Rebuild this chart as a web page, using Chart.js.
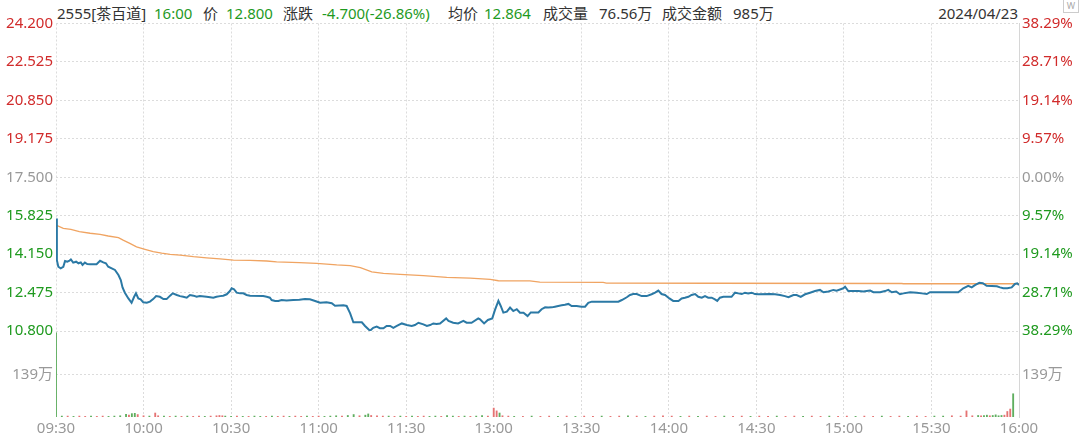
<!DOCTYPE html>
<html lang="zh-CN">
<head>
<meta charset="UTF-8">
<title>2555 茶百道 分时</title>
<script src="https://cdn.jsdelivr.net/npm/chart.js"></script>
<style>
    body {
        margin: 0;
        width: 1080px;
        height: 439px;
        overflow: hidden;
        background: #fff;
        position: relative;
        font-family: "Noto Sans", "Noto Sans CJK SC", sans-serif;
    }
    .hd {
        position: absolute;
        top: 3px;
        font-size: 15px;
        line-height: 20px;
        color: #333;
        white-space: nowrap;
    }
    .g { color: #1f9a1f; }
    #priceCanvas { position: absolute; left: 0; top: 0; z-index: 2; }
    #volCanvas { position: absolute; left: 0; top: 331px; z-index: 1; }
    .icon {
        position: absolute; left: 1063px; top: 0; width: 14px; height: 12px;
        border: 1px solid #ccc; border-top: none; font-size: 9px; line-height: 12px;
        color: #aaa; text-align: center;
    }
</style>
</head>
<body>
<div class="hd" style="left:57px">2555[茶百道]</div>
<div class="hd g" style="left:154px">16:00</div>
<div class="hd" style="left:203px">价</div>
<div class="hd g" style="left:226px">12.800</div>
<div class="hd" style="left:283px">涨跌</div>
<div class="hd g" style="left:322px">-4.700(-26.86%)</div>
<div class="hd" style="left:448px">均价</div>
<div class="hd g" style="left:484px">12.864</div>
<div class="hd" style="left:543px">成交量</div>
<div class="hd" style="left:599px">76.56万</div>
<div class="hd" style="left:662px">成交金额</div>
<div class="hd" style="left:733px">985万</div>
<div class="hd" style="right:62px">2024/04/23</div>
<div class="icon">W</div>

<canvas id="priceCanvas" width="1080" height="341"></canvas>
<canvas id="volCanvas" width="1080" height="110"></canvas>

<script>
// minutes since 09:30 (lunch break removed), 0..330
const timeTicks = [0, 30, 60, 90, 120, 150, 180, 210, 240, 270, 300, 330];
const timeLabels = ['09:30', '10:00', '10:30', '11:00', '11:30', '13:00', '13:30', '14:00', '14:30', '15:00', '15:30', '16:00'];

const prevClose = 17.5;
const priceTicks = [10.8, 12.475, 14.15, 15.825, 17.5, 19.175, 20.85, 22.525, 24.2];

// [minute, price]
const priceLine = [
    [0, 15.70], [0.3, 13.89], [0.8, 13.60], [1.6, 13.53], [2.5, 13.60], [3.1, 13.85], [3.9, 13.82], [4.6, 13.86],
    [5.1, 13.92], [5.9, 13.78], [6.9, 13.82], [7.7, 13.75], [8.5, 13.79], [9.1, 13.68], [9.9, 13.78], [10.7, 13.72],
    [11.7, 13.71], [13.9, 13.71], [15.1, 13.86], [16.2, 13.79], [17.1, 13.75], [17.9, 13.60], [19.1, 13.53], [20.2, 13.46],
    [21.4, 13.24], [22.2, 13.02], [22.8, 12.70], [23.6, 12.47], [24.8, 12.22], [25.9, 12.03], [26.7, 12.27], [27.4, 12.44],
    [28.2, 12.22], [29.0, 12.18], [29.9, 12.05], [31.1, 12.03], [32.2, 12.08], [33.3, 12.19], [34.3, 12.32], [35.6, 12.29],
    [36.8, 12.19], [37.9, 12.19], [39.1, 12.34], [40.0, 12.44], [41.4, 12.37], [42.5, 12.32], [43.6, 12.29], [44.8, 12.25],
    [45.9, 12.37], [47.1, 12.34], [48.2, 12.29], [49.3, 12.32], [51.6, 12.29], [52.8, 12.27], [53.9, 12.25], [55.0, 12.29],
    [56.2, 12.32], [57.3, 12.34], [58.5, 12.40], [59.6, 12.54], [60.2, 12.66], [61.0, 12.62], [61.9, 12.47], [63.1, 12.44],
    [64.2, 12.44], [65.3, 12.37], [66.5, 12.34], [71.0, 12.32], [72.2, 12.29], [73.3, 12.25], [73.9, 12.15], [75.1, 12.11],
    [76.2, 12.11], [77.3, 12.15], [79.0, 12.13], [81.3, 12.15], [83.4, 12.16], [85.3, 12.19], [87.0, 12.18], [88.8, 12.11],
    [90.5, 12.03], [92.7, 12.05], [94.5, 12.01], [95.6, 11.90], [98.5, 11.92], [99.6, 11.89], [100.8, 11.57], [101.9, 11.18],
    [104.8, 11.18], [105.9, 11.02], [107.6, 10.81], [108.7, 10.94], [109.9, 10.99], [111.0, 10.92], [112.2, 10.92], [113.3, 11.02],
    [114.5, 11.02], [115.6, 10.94], [116.8, 11.02], [118.5, 11.13], [120.2, 11.06], [121.9, 11.02], [123.0, 11.06], [124.2, 11.16],
    [125.9, 11.09], [127.1, 11.02], [128.2, 11.06], [129.3, 11.13], [130.4, 11.11], [131.6, 11.13], [133.7, 11.35], [134.5, 11.24],
    [136.1, 11.16], [137.8, 11.13], [139.6, 11.24], [140.7, 11.16], [142.4, 11.16], [144.7, 11.35], [145.3, 11.31], [146.7, 11.13],
    [148.0, 11.28], [149.5, 11.35], [150.4, 11.71], [151.6, 12.11], [152.4, 11.89], [153.3, 11.60], [154.5, 11.64], [155.6, 11.82],
    [156.7, 11.67], [157.9, 11.75], [159.0, 11.60], [160.2, 11.60], [161.6, 11.45], [162.7, 11.61], [165.3, 11.61], [166.4, 11.75],
    [167.6, 11.83], [168.7, 11.82], [169.9, 11.83], [171.0, 11.86], [172.1, 11.89], [173.3, 11.92], [174.4, 11.94], [175.6, 11.98],
    [176.7, 11.89], [178.4, 11.89], [180.1, 11.86], [181.3, 11.86], [182.4, 12.03], [183.6, 12.08], [192.7, 12.08], [193.9, 12.15],
    [195.6, 12.27], [196.7, 12.37], [197.8, 12.41], [199.0, 12.41], [200.7, 12.32], [202.4, 12.32], [204.1, 12.40], [205.3, 12.47],
    [206.4, 12.56], [207.5, 12.41], [208.7, 12.37], [210.2, 12.22], [211.5, 12.11], [213.3, 12.11], [214.4, 12.22], [215.5, 12.25],
    [216.7, 12.29], [217.8, 12.37], [219.0, 12.41], [220.1, 12.29], [221.3, 12.25], [222.4, 12.32], [223.5, 12.25], [224.7, 12.25],
    [225.8, 12.18], [226.6, 12.11], [227.5, 12.25], [228.7, 12.29], [231.5, 12.29], [232.7, 12.47], [233.8, 12.44], [235.0, 12.41],
    [236.1, 12.47], [237.2, 12.44], [238.4, 12.47], [239.5, 12.41], [240.7, 12.40], [244.7, 12.41], [246.4, 12.40], [248.1, 12.37],
    [249.8, 12.32], [251.0, 12.27], [252.7, 12.37], [253.8, 12.37], [255.2, 12.29], [256.7, 12.40], [258.4, 12.47], [260.1, 12.54],
    [261.8, 12.59], [263.0, 12.49], [264.7, 12.52], [266.4, 12.59], [267.5, 12.56], [268.9, 12.62], [269.8, 12.66], [270.4, 12.73],
    [271.5, 12.54], [275.0, 12.54], [276.7, 12.52], [277.8, 12.54], [279.0, 12.56], [280.1, 12.49], [282.4, 12.49], [284.1, 12.54],
    [285.2, 12.59], [286.4, 12.49], [287.9, 12.52], [289.2, 12.40], [290.4, 12.44], [292.7, 12.49], [295.0, 12.47], [296.7, 12.44],
    [298.4, 12.41], [299.5, 12.49], [309.2, 12.49], [310.9, 12.66], [312.6, 12.77], [313.8, 12.70], [314.9, 12.80], [316.4, 12.90],
    [317.6, 12.88], [318.9, 12.77], [322.4, 12.75], [323.5, 12.70], [324.6, 12.66], [326.0, 12.66], [327.5, 12.70], [328.6, 12.85],
    [329.4, 12.88], [330, 12.80]
];

// [minute, average price]
const avgLine = [
    [0, 15.42], [2.5, 15.27], [5.1, 15.23], [8.0, 15.13], [11.7, 15.06], [15.1, 15.01], [17.9, 14.94], [21.4, 14.87],
    [23.0, 14.76], [25.3, 14.62], [27.6, 14.47], [30.5, 14.36], [33.3, 14.26], [36.2, 14.19], [39.1, 14.14], [42.5, 14.11],
    [47.1, 14.04], [51.6, 13.99], [56.2, 13.94], [60.8, 13.89], [66.5, 13.88], [72.2, 13.85], [75.6, 13.81], [83.4, 13.78],
    [89.3, 13.75], [96.2, 13.68], [100.8, 13.65], [104.3, 13.56], [108.2, 13.38], [112.2, 13.31], [117.9, 13.27], [125.9, 13.21],
    [133.9, 13.14], [141.9, 13.10], [148.8, 13.05], [151.6, 12.99], [162.4, 12.98], [165.8, 12.93], [187.5, 12.92], [188.6, 12.89],
    [224.6, 12.88], [289.8, 12.87], [290.4, 12.86], [330, 12.86]
];

// volume in 万, up: 1 = red, 0 = green
const volMinute = [0, 2, 4, 6, 8, 10, 12, 14, 16, 18, 20, 22, 24, 25, 26, 27, 28, 30, 32, 34, 35, 37, 39, 41, 43, 45, 47, 49, 51, 53,
    55, 56, 57, 58, 60, 62, 64, 66, 68, 70, 72, 74, 76, 78, 80, 82, 84, 86, 88, 90, 92, 94, 96, 98, 100, 102, 104, 106, 107, 108,
    110, 112, 114, 116, 118, 120, 122, 124, 126, 128, 130, 132, 134, 136, 138, 140, 142, 144, 146, 148, 150, 151, 152, 153, 155, 157,
    160, 163, 166, 169, 172, 175, 178, 181, 184, 187, 190, 193, 196, 199, 202, 205, 208, 211, 214, 217, 220, 223, 226, 229, 232, 235,
    238, 241, 244, 247, 250, 253, 256, 259, 262, 265, 268, 271, 274, 277, 280, 283, 286, 289, 292, 295, 298, 301, 304, 307, 310, 312,
    314, 316, 317, 318, 319, 320, 321, 322, 323, 324, 325, 326, 327, 328, 329, 330];
const volValue = [275, 3, 3, 2, 3, 2, 3, 2, 3, 2, 3, 4, 9, 6, 11, 12, 8, 4, 3, 13, 4, 3, 2, 3, 2, 3, 2, 3, 2, 3,
    4, 5, 4, 3, 2, 3, 2, 2, 3, 2, 2, 3, 2, 3, 2, 3, 2, 3, 2, 3, 2, 3, 4, 3, 5, 8, 4, 6, 10, 5,
    4, 3, 3, 2, 3, 2, 3, 2, 3, 2, 3, 2, 5, 3, 2, 3, 2, 3, 5, 3, 29, 20, 13, 4, 3, 2,
    2, 3, 2, 3, 2, 3, 2, 3, 2, 3, 2, 3, 4, 3, 2, 3, 4, 3, 2, 3, 2, 3, 2, 3, 2, 3,
    2, 3, 2, 3, 2, 3, 2, 3, 2, 3, 2, 3, 2, 3, 2, 3, 2, 3, 2, 3, 2, 3, 3, 4,
    3, 20, 4, 5, 4, 5, 6, 4, 5, 7, 4, 5, 6, 18, 26, 76];
const volUp = [0, 0, 1, 0, 1, 1, 0, 1, 1, 0, 0, 0, 0, 1, 0, 0, 1, 1, 0, 1, 1, 0, 1, 0, 1, 0, 1, 1, 0, 1,
    1, 1, 1, 0, 0, 1, 0, 1, 0, 0, 1, 0, 1, 1, 0, 1, 1, 0, 1, 1, 0, 0, 0, 1, 0, 0, 1, 0, 0, 1,
    1, 1, 0, 1, 0, 1, 0, 1, 1, 0, 0, 1, 0, 0, 1, 0, 1, 0, 0, 1, 1, 1, 0, 1, 1, 0,
    1, 0, 1, 1, 0, 1, 0, 1, 1, 0, 1, 1, 0, 1, 0, 1, 1, 1, 0, 1, 0, 1, 1, 0, 1, 1,
    0, 1, 1, 0, 1, 1, 0, 1, 1, 0, 1, 1, 0, 1, 1, 0, 1, 1, 0, 1, 1, 0, 0, 1,
    1, 1, 1, 0, 1, 0, 0, 1, 0, 0, 0, 0, 1, 1, 1, 0];
const volMax = 278;
const volTicks = [139];

const RED = '#d12b2b', GREEN = '#1f9a1f', GRAY = '#999999';
const GRID = '#dcdcdc';
const FONT = { family: '"Noto Sans", "Noto Sans CJK SC", sans-serif', size: 15 };

function priceColor(v) {
    if (Math.abs(v - prevClose) < 1e-6) return GRAY;
    return v > prevClose ? RED : GREEN;
}
function noPad(s) { s.paddingTop = 0; s.paddingBottom = 0; }

const timeAxis = (showLabels) => ({
    type: 'linear', min: 0, max: 330, offset: false,
    afterBuildTicks: s => { s.ticks = timeTicks.map(v => ({ value: v })); },
    ticks: {
        display: showLabels, padding: 3, color: GRAY, font: FONT, maxRotation: 0, autoSkip: false,
        callback: v => timeLabels[timeTicks.indexOf(v)]
    },
    grid: { color: GRID, drawTicks: false, offset: false, borderDash: [2, 2] },
    border: { display: false, dash: [2, 2] }
});

new Chart(document.getElementById('priceCanvas'), {
    type: 'line',
    data: {
        datasets: [
            {
                data: priceLine.map(p => ({ x: p[0], y: p[1] })),
                borderColor: '#2b79a5', borderWidth: 2, pointRadius: 0, tension: 0, order: 1
            },
            {
                data: avgLine.map(p => ({ x: p[0], y: p[1] })),
                borderColor: '#f0a462', borderWidth: 1.3, pointRadius: 0, tension: 0, order: 2
            }
        ]
    },
    options: {
        responsive: false, animation: false, events: [],
        layout: { padding: { top: 23.5, bottom: 10, left: 0, right: 0 } },
        plugins: { legend: { display: false }, tooltip: { enabled: false } },
        scales: {
            x: timeAxis(false),
            y: {
                position: 'left', min: 10.8, max: 24.2,
                afterBuildTicks: s => { s.ticks = priceTicks.map(v => ({ value: v })); },
                afterFit: s => { s.width = 56; noPad(s); },
                ticks: { padding: 3, font: FONT, color: c => priceColor(c.tick.value), callback: v => v.toFixed(3) },
                grid: { color: GRID, drawTicks: false, borderDash: [2, 2] },
                border: { display: false, dash: [2, 2] }
            },
            yR: {
                position: 'right', min: 10.8, max: 24.2,
                afterBuildTicks: s => { s.ticks = priceTicks.map(v => ({ value: v })); },
                afterFit: s => { s.width = 61; noPad(s); },
                ticks: {
                    padding: 3, font: FONT, color: c => priceColor(c.tick.value),
                    callback: v => (Math.abs(v - prevClose) / prevClose * 100).toFixed(2) + '%'
                },
                grid: { display: false, drawTicks: false },
                border: { display: true, color: '#d6d6d6', width: 1 }
            }
        }
    }
});

new Chart(document.getElementById('volCanvas'), {
    type: 'bar',
    data: {
        datasets: [{
            data: volMinute.map((m, i) => ({ x: m, y: volValue[i] })),
            backgroundColor: volUp.map(u => u ? '#e57373' : '#5fae5f'),
            barThickness: 1.2
        }]
    },
    options: {
        responsive: false, animation: false, events: [],
        layout: { padding: { top: 1, bottom: 0, left: 0, right: 0 } },
        plugins: { legend: { display: false }, tooltip: { enabled: false } },
        scales: {
            x: timeAxis(true),
            y: {
                position: 'left', min: 0, max: volMax,
                afterBuildTicks: s => { s.ticks = volTicks.map(v => ({ value: v })); },
                afterFit: s => { s.width = 56; noPad(s); },
                ticks: { padding: 3, font: FONT, color: GRAY, callback: v => v + '万' },
                grid: { color: GRID, drawTicks: false, borderDash: [2, 2] },
                border: { display: false, dash: [2, 2] }
            },
            yR: {
                position: 'right', min: 0, max: volMax,
                afterBuildTicks: s => { s.ticks = volTicks.map(v => ({ value: v })); },
                afterFit: s => { s.width = 61; noPad(s); },
                ticks: { padding: 3, font: FONT, color: GRAY, callback: v => v + '万' },
                grid: { display: false, drawTicks: false },
                border: { display: true, color: '#d6d6d6', width: 1 }
            }
        }
    }
});
</script>
</body>
</html>
